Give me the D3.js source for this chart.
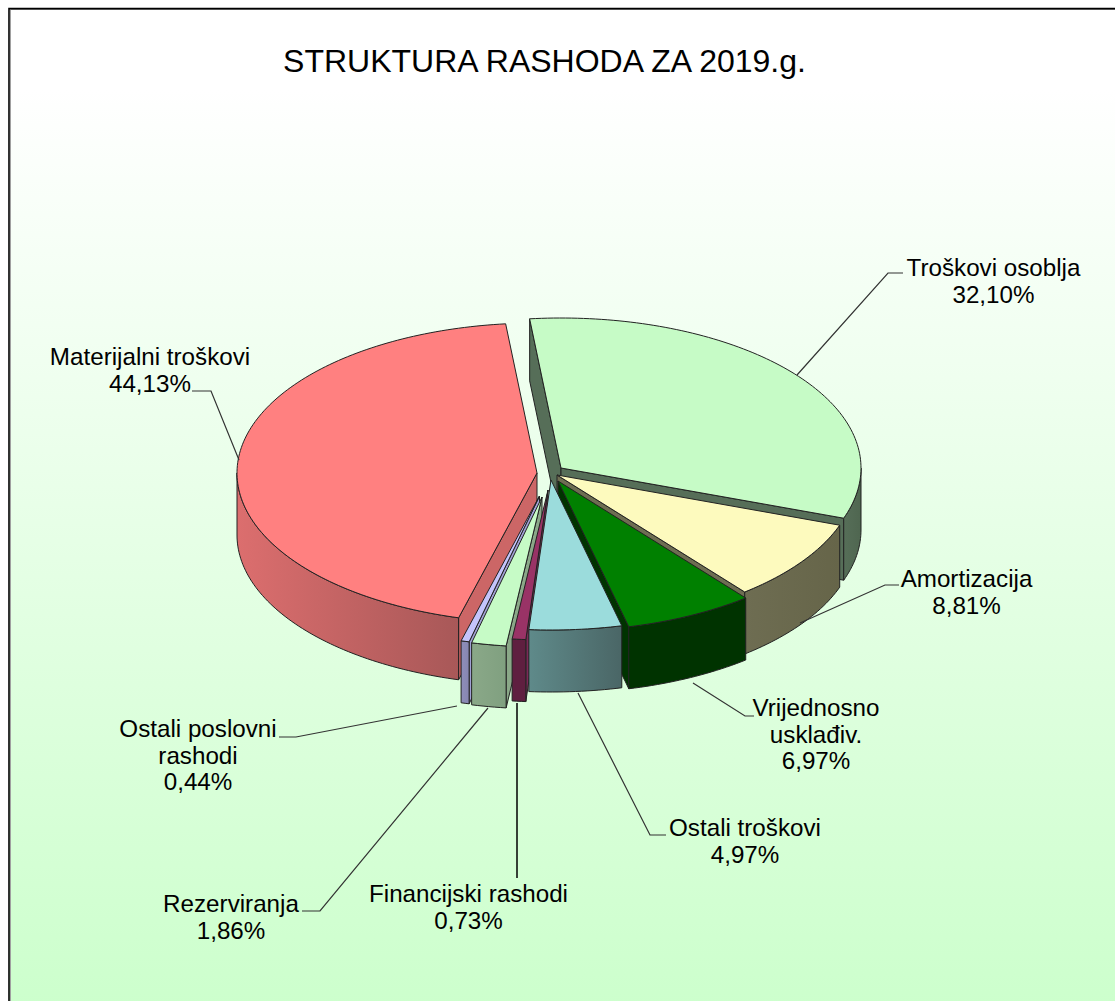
<!DOCTYPE html>
<html><head><meta charset="utf-8">
<script src="https://cdn.jsdelivr.net/npm/d3@7/dist/d3.min.js"></script>
<style>html,body{margin:0;padding:0;background:#fff;overflow:hidden}svg{display:block}</style>
</head><body><svg id="c" width="1115" height="1001"></svg>
<script>
// --- data ---
const categories = ["Troškovi osoblja","Amortizacija","Vrijednosno usklađiv.","Ostali troškovi","Financijski rashodi","Rezerviranja","Ostali poslovni rashodi","Materijalni troškovi"];
const shares = [32.10,8.81,6.97,4.97,0.73,1.86,0.44,44.13];
const shareLabels = ["32,10%","8,81%","6,97%","4,97%","0,73%","1,86%","0,44%","44,13%"];
const title = "STRUKTURA RASHODA ZA 2019.g.";

// --- styles & layout ---
const W=1115,H=1001;
const topCol =["#c6fbc6","#fdfabe","#008000","#9bdcdc","#993366","#c6fbc6","#c4c4fb","#ff8080"];
const wallA  =["#566e58","#6e6d52","#003300","#5f8a8a","#5f1f40","#8aa888","#8e8eba","#dc6e6e"];
const wallB  =["#4f6650","#666549","#003300","#4a6666","#5f1f40","#80a080","#8686b0","#a85858"];
const sideCol=["#566e58","#6e6d52","#003300","#5f8a8a","#7c2a58","#8aa888","#a0a0d4","#cc6666"];
const apexes =[[561,468],[557,475],[558,481],[551,480],[548,490],[542,497],[539.5,496],[537,473]];
const drawOrder=[0,7,1,6,5,4,2,3];
const rx=300, ry=150, depth=62, startDeg=-6;
const labelLines=[
 {lines:["Troškovi osoblja",shareLabels[0]],x:993.5,y:276,elbow:[[888,273],[903,273]],at:[797,375]},
 {lines:["Amortizacija",shareLabels[1]],x:966.5,y:587,elbow:[[885,585],[899,585]],at:[800,623]},
 {lines:["Vrijednosno","usklađiv.",shareLabels[2]],x:816,y:716,elbow:[[745,716],[754,716]],at:[693,683]},
 {lines:["Ostali troškovi",shareLabels[3]],x:745,y:836,elbow:[[650,835],[666,835]],at:[578,693]},
 {lines:["Financijski rashodi",shareLabels[4]],x:468.5,y:902,elbow:[[517,878],[517,878]],at:[517,703]},
 {lines:["Rezerviranja",shareLabels[5]],x:231,y:912,elbow:[[320,911],[302,911]],at:[488,708]},
 {lines:["Ostali poslovni","rashodi",shareLabels[6]],x:198,y:737,elbow:[[296,737],[279,737]],at:[457,706]},
 {lines:["Materijalni troškovi",shareLabels[7]],x:150,y:365,elbow:[[211,391],[192,391]],at:[239,460]}
];

const svg=d3.select("#c");
const defs=svg.append("defs");
const bg=defs.append("linearGradient").attr("id","bg").attr("x1",0).attr("y1",0).attr("x2",0).attr("y2",1);
[[0,"#ffffff"],[0.08,"#ffffff"],[1,"#ccffcc"]].forEach(s=>bg.append("stop").attr("offset",s[0]).attr("stop-color",s[1]));

svg.append("rect").attr("x",9).attr("y",9).attr("width",W).attr("height",H).attr("fill","url(#bg)");
svg.append("path").attr("d",`M10.5 ${H}V9.5H${W}`).attr("fill","none").attr("stroke","#a0a0a0").attr("stroke-width",1);
svg.append("path").attr("d",`M9 ${H}V8.6H${W}`).attr("fill","none").attr("stroke","#000").attr("stroke-width",1.6);

svg.append("text").text(title).attr("x",544.5).attr("y",72).attr("text-anchor","middle")
  .attr("font-family","'Liberation Sans',Arial,sans-serif").attr("font-size",32).attr("fill","#000");

const pie=d3.pie().sort(null).value(d=>d).startAngle(startDeg*Math.PI/180).endAngle((startDeg+360)*Math.PI/180);
const arcs=pie(shares);
const xS=d3.scaleLinear().domain([-1,1]).range([-rx,rx]);
const yS=d3.scaleLinear().domain([-1,1]).range([ry,-ry]);
const pt=(c,t,dz=0)=>[c[0]+xS(Math.sin(t)),c[1]+yS(Math.cos(t))+dz];
const samples=(a,b)=>{const n=Math.max(2,Math.ceil(Math.abs(b-a)/0.02));return d3.range(n+1).map(i=>a+(b-a)*i/n);};
const line=d3.line();
const g=svg.append("g").attr("stroke-linejoin","round");

drawOrder.forEach(i=>{
  const a=arcs[i],c=apexes[i],s0=a.startAngle,s1=a.endAngle;
  const sl=g.append("g");
  const sideWall=(t)=>{const p=pt(c,t),q=[c[0],c[1]];
    sl.append("path").attr("d",line([q,p,[p[0],p[1]+depth],[q[0],q[1]+depth]])+"Z").attr("fill",sideCol[i]).attr("stroke","#222").attr("stroke-width",1);};
  if(Math.sin(s0)<0) sideWall(s0);
  if(Math.sin(s1)>0) sideWall(s1);
  const lo=Math.max(s0,Math.PI/2), hi=Math.min(s1,Math.PI*1.5);
  if(hi>lo){
    const ts=samples(lo,hi);
    const up=ts.map(t=>pt(c,t)), dn=ts.map(t=>pt(c,t,depth)).reverse();
    const xs=up.map(p=>p[0]);
    const id="w"+i;
    const gr=defs.append("linearGradient").attr("id",id).attr("gradientUnits","userSpaceOnUse")
      .attr("x1",d3.min(xs)).attr("x2",d3.max(xs)).attr("y1",0).attr("y2",0);
    gr.append("stop").attr("offset",0).attr("stop-color",wallA[i]);
    gr.append("stop").attr("offset",1).attr("stop-color",wallB[i]);
    sl.append("path").attr("d",line(up.concat(dn))+"Z").attr("fill",`url(#${id})`).attr("stroke","#222").attr("stroke-width",1);
  }
  const rim=samples(s0,s1).map(t=>pt(c,t));
  sl.append("path").attr("d",line([c].concat(rim))+"Z").attr("fill",topCol[i]).attr("stroke","#222").attr("stroke-width",1);
});

const lg=svg.append("g").attr("font-family","'Liberation Sans',Arial,sans-serif").attr("font-size",24.2).attr("fill","#000");
labelLines.forEach((l,i)=>{
  svg.append("path").attr("d",line([l.at].concat(l.elbow))).attr("fill","none").attr("stroke",i==4?"#000":"#333").attr("stroke-width",i==4?1.5:1.2);
  const t=lg.append("text").attr("text-anchor","middle").style("white-space","pre");
  l.lines.forEach((s,k)=>t.append("tspan").attr("x",l.x).attr("y",l.y+k*26.5).text(s));
});
</script></body></html>
